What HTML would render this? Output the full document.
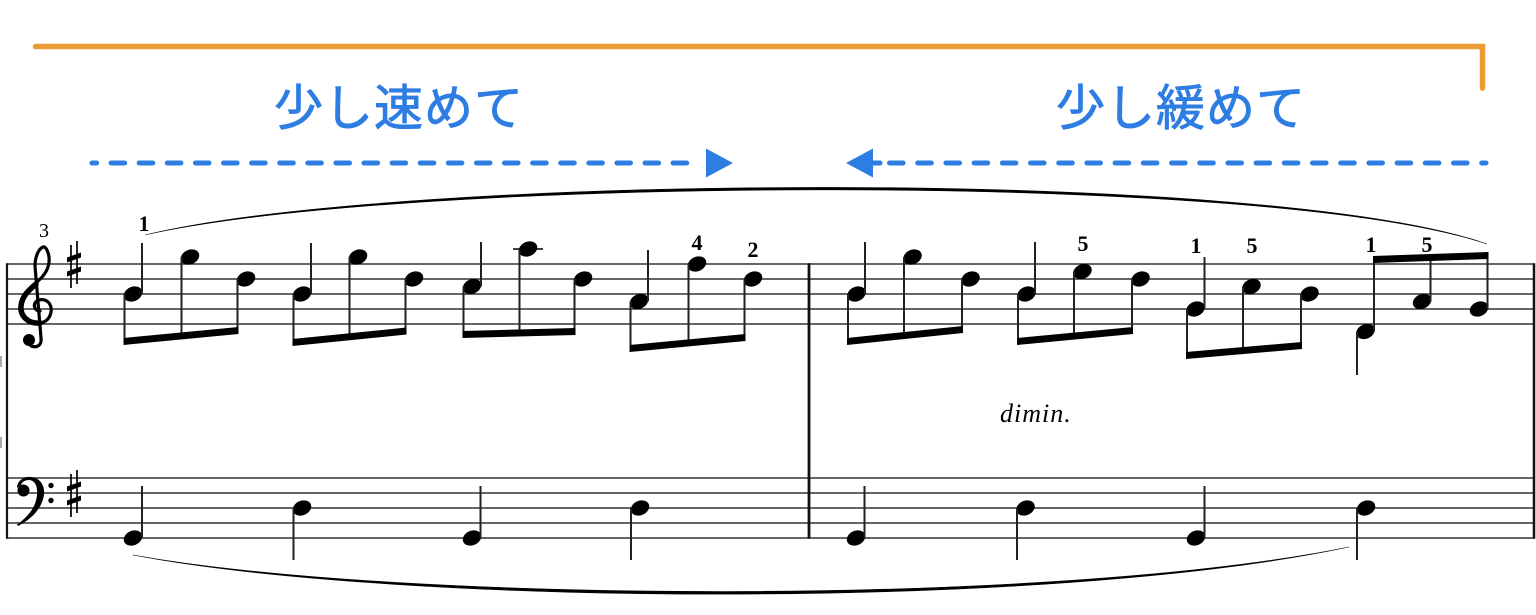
<!DOCTYPE html>
<html>
<head>
<meta charset="utf-8">
<style>
html,body{margin:0;padding:0;background:#fff;}
svg{display:block}
.jp{font-family:"Liberation Sans","Noto Sans CJK JP",sans-serif;}
.fg{font-family:"Liberation Serif","DejaVu Serif",serif;font-weight:bold;font-size:22px;}
</style>
</head>
<body>
<svg width="1536" height="615" viewBox="0 0 1536 615" xmlns="http://www.w3.org/2000/svg">
<defs>
  <ellipse id="nh" cx="0" cy="0" rx="9.6" ry="7.2" transform="rotate(-24)" fill="#000"/>
</defs>
<rect width="1536" height="615" fill="#fff"/>

<!-- orange bracket -->
<path d="M35.5 46.5 L1482.5 46.5 L1482.5 88" fill="none" stroke="#EA9D36" stroke-width="5.5" stroke-linecap="round" stroke-linejoin="miter"/>

<!-- Japanese labels -->
<text class="jp" x="399" y="125" text-anchor="middle" font-size="49" fill="#2E7DE3" stroke="#2E7DE3" stroke-width="0.9" stroke-linejoin="round" letter-spacing="1">少し速めて</text>
<text class="jp" x="1181" y="125" text-anchor="middle" font-size="49" fill="#2E7DE3" stroke="#2E7DE3" stroke-width="0.9" stroke-linejoin="round" letter-spacing="1">少し緩めて</text>

<!-- dashed arrows -->
<path d="M92 163 L692 163" stroke="#2E7DE3" stroke-width="5" stroke-linecap="round" stroke-dasharray="13.6 14.5" stroke-dashoffset="9" fill="none"/>
<polygon points="706,148.5 733,163 706,177.5" fill="#2E7DE3"/>
<path d="M889.5 163 L1486 163" stroke="#2E7DE3" stroke-width="5" stroke-linecap="round" stroke-dasharray="13.6 14.6" fill="none"/>
<path d="M872 163 L880 163" stroke="#2E7DE3" stroke-width="5" stroke-linecap="round"/>
<polygon points="873,148.5 846,163 873,177.5" fill="#2E7DE3"/>

<!-- left edge marks -->
<rect x="0" y="356" width="2" height="11" fill="#aaa"/>
<rect x="0" y="437" width="2" height="11" fill="#aaa"/>

<!-- staff lines -->
<g stroke="#333" stroke-width="1.5">
  <line x1="7" y1="264" x2="1534" y2="264"/>
  <line x1="7" y1="279" x2="1534" y2="279"/>
  <line x1="7" y1="294" x2="1534" y2="294"/>
  <line x1="7" y1="309" x2="1534" y2="309"/>
  <line x1="7" y1="324" x2="1534" y2="324"/>
  <line x1="7" y1="478" x2="1534" y2="478"/>
  <line x1="7" y1="493" x2="1534" y2="493"/>
  <line x1="7" y1="508" x2="1534" y2="508"/>
  <line x1="7" y1="523" x2="1534" y2="523"/>
  <line x1="7" y1="538" x2="1534" y2="538"/>
</g>
<!-- barlines -->
<g stroke="#111">
  <line x1="7" y1="263.3" x2="7" y2="538.7" stroke-width="2.2"/>
  <line x1="809" y1="263.3" x2="809" y2="538.7" stroke-width="2.8"/>
  <line x1="1534" y1="263.3" x2="1534" y2="538.7" stroke-width="2.5"/>
</g>

<!-- treble clef -->
<g fill="none" stroke="#000" stroke-linecap="round" stroke-linejoin="round">
  <path d="M40 311 C36 311 33 307 35 303 C37 299 45 298 49 303 C54 310 50 322 40 323 C28 324 19 316 20 306 C21 295 30 288 38 281 C46 274 50 266 49 257 C48 250 45 246 43 247 C38 249 35 258 35 266 L41 338 C42 346 36 348 31 346" stroke-width="3.2"/>
  <path d="M40 323 C28 324 20 316 21 306 C22 296 29 290 36 284" stroke-width="5.5"/>
</g>
<circle cx="29" cy="340" r="6" fill="#000"/>

<!-- bass clef -->
<path d="M17 488 C17 480 25 476 31 477 C40 478 45 485 44 495 C42 508 32 519 18 526 L17 524.5 C28 517 36 507 37 495 C38 485 34 480 29 480 C25 480 22 482 21 485 Z" fill="#000"/>
<circle cx="23.5" cy="490.5" r="6" fill="#000"/>
<circle cx="51" cy="485.5" r="2.7" fill="#000"/>
<circle cx="51" cy="500.5" r="2.7" fill="#000"/>

<!-- key signatures (sharps) -->
<g>
  <line x1="71" y1="245" x2="71" y2="288" stroke="#000" stroke-width="1.7"/>
  <line x1="77" y1="241" x2="77" y2="284" stroke="#000" stroke-width="1.7"/>
  <polygon points="67,257.5 81,252.5 81,257.5 67,262.5" fill="#000"/>
  <polygon points="67,271.5 81,266.5 81,271.5 67,276.5" fill="#000"/>
</g>
<g transform="translate(0,229)">
  <line x1="71" y1="245" x2="71" y2="288" stroke="#000" stroke-width="1.7"/>
  <line x1="77" y1="241" x2="77" y2="284" stroke="#000" stroke-width="1.7"/>
  <polygon points="67,257.5 81,252.5 81,257.5 67,262.5" fill="#000"/>
  <polygon points="67,271.5 81,266.5 81,271.5 67,276.5" fill="#000"/>
</g>

<!-- measure number -->
<text x="44" y="237" text-anchor="middle" font-family="'Liberation Serif','DejaVu Serif',serif" font-size="20">3</text>

<!-- ledger line -->
<line x1="513" y1="249" x2="543" y2="249" stroke="#000" stroke-width="1.6"/>

<!-- treble noteheads -->
<g>
  <use href="#nh" x="133" y="294"/><use href="#nh" x="190" y="257"/><use href="#nh" x="246" y="279"/>
  <use href="#nh" x="302" y="294"/><use href="#nh" x="358" y="257"/><use href="#nh" x="414" y="279"/>
  <use href="#nh" x="472" y="286.5"/><use href="#nh" x="528" y="249"/><use href="#nh" x="583" y="279"/>
  <use href="#nh" x="639" y="301.5"/><use href="#nh" x="697" y="264"/><use href="#nh" x="753" y="279"/>
  <use href="#nh" x="856.5" y="294"/><use href="#nh" x="912.5" y="257"/><use href="#nh" x="970.5" y="279"/>
  <use href="#nh" x="1026.5" y="294"/><use href="#nh" x="1082.5" y="271.5"/><use href="#nh" x="1140.5" y="279"/>
  <use href="#nh" x="1195.5" y="309"/><use href="#nh" x="1251.5" y="286.5"/><use href="#nh" x="1309.5" y="294"/>
  <use href="#nh" x="1365.5" y="331.5"/><use href="#nh" x="1422" y="301.5"/><use href="#nh" x="1479" y="309"/>
</g>

<!-- treble stems -->
<g stroke="#222" stroke-width="2">
  <line x1="124.5" y1="294" x2="124.5" y2="344"/><line x1="181.5" y1="257" x2="181.5" y2="337"/><line x1="237.5" y1="279" x2="237.5" y2="332"/>
  <line x1="142" y1="294" x2="142" y2="243"/>
  <line x1="293.5" y1="294" x2="293.5" y2="345"/><line x1="349.5" y1="257" x2="349.5" y2="337"/><line x1="405.5" y1="279" x2="405.5" y2="332"/>
  <line x1="311" y1="294" x2="311" y2="243"/>
  <line x1="463.5" y1="286.5" x2="463.5" y2="337"/><line x1="519.5" y1="249" x2="519.5" y2="336"/><line x1="574.5" y1="279" x2="574.5" y2="334"/>
  <line x1="481" y1="286.5" x2="481" y2="242"/>
  <line x1="630.5" y1="301.5" x2="630.5" y2="351"/><line x1="688.5" y1="264" x2="688.5" y2="346"/><line x1="744.5" y1="279" x2="744.5" y2="340"/>
  <line x1="648" y1="301.5" x2="648" y2="250"/>
  <line x1="848" y1="294" x2="848" y2="344"/><line x1="904" y1="257" x2="904" y2="338"/><line x1="962" y1="279" x2="962" y2="332"/>
  <line x1="865" y1="294" x2="865" y2="242"/>
  <line x1="1018" y1="294" x2="1018" y2="344"/><line x1="1074" y1="271.5" x2="1074" y2="338"/><line x1="1132" y1="279" x2="1132" y2="333"/>
  <line x1="1035" y1="294" x2="1035" y2="242"/>
  <line x1="1187" y1="309" x2="1187" y2="358"/><line x1="1243" y1="286.5" x2="1243" y2="353"/><line x1="1301" y1="294" x2="1301" y2="348"/>
  <line x1="1204.5" y1="309" x2="1204.5" y2="257"/>
  <line x1="1357" y1="331.5" x2="1357" y2="375"/>
  <line x1="1374" y1="331.5" x2="1374" y2="257"/><line x1="1430.5" y1="301.5" x2="1430.5" y2="255"/><line x1="1487.5" y1="309" x2="1487.5" y2="253"/>
</g>

<!-- beams -->
<g fill="#000">
  <polygon points="123.5,338 238.5,327 238.5,334 123.5,345"/>
  <polygon points="292.5,339 406.5,327.5 406.5,334.5 292.5,346"/>
  <polygon points="462.5,331 575.5,328 575.5,335 462.5,338"/>
  <polygon points="629.5,345 745.5,334 745.5,341 629.5,352"/>
  <polygon points="847,338 963,326 963,333 847,345"/>
  <polygon points="1017,338 1133,327 1133,334 1017,345"/>
  <polygon points="1186,352 1302,342 1302,349 1186,359"/>
  <polygon points="1373,256 1488.5,252 1488.5,259 1373,263"/>
</g>

<!-- bass notes -->
<g>
  <use href="#nh" x="133" y="538"/><use href="#nh" x="302" y="508"/><use href="#nh" x="472" y="538"/><use href="#nh" x="640" y="508"/>
  <use href="#nh" x="856" y="538"/><use href="#nh" x="1025.5" y="508"/><use href="#nh" x="1196" y="538"/><use href="#nh" x="1366" y="508"/>
</g>
<g stroke="#222" stroke-width="2">
  <line x1="142" y1="538" x2="142" y2="486"/><line x1="293.5" y1="508" x2="293.5" y2="560"/>
  <line x1="480.5" y1="538" x2="480.5" y2="486"/><line x1="631" y1="508" x2="631" y2="560"/>
  <line x1="864.5" y1="538" x2="864.5" y2="486"/><line x1="1017" y1="508" x2="1017" y2="560"/>
  <line x1="1204.5" y1="538" x2="1204.5" y2="486"/><line x1="1357" y1="508" x2="1357" y2="560"/>
</g>

<!-- slurs -->
<path d="M145 235 C400 173.5 1265 166.5 1487 244 C1265 169.5 400 177 145 235 Z" fill="#000" stroke="#000" stroke-width="0.6"/>
<path d="M133 555 C400 606 1050 611 1349 547 C1050 607.5 400 602.5 133 555 Z" fill="#000" stroke="#000" stroke-width="0.6"/>

<!-- fingerings -->
<g class="fg" text-anchor="middle" fill="#000">
  <text x="144" y="231">1</text>
  <text x="697" y="250">4</text>
  <text x="753" y="257">2</text>
  <text x="1083" y="251">5</text>
  <text x="1196" y="253">1</text>
  <text x="1252" y="253">5</text>
  <text x="1371" y="252">1</text>
  <text x="1427" y="252">5</text>
</g>

<!-- dimin. -->
<text x="1000" y="422" font-family="'Liberation Serif','DejaVu Serif',serif" font-style="italic" font-size="26" letter-spacing="1" fill="#000">dimin.</text>
</svg>
</body>
</html>
